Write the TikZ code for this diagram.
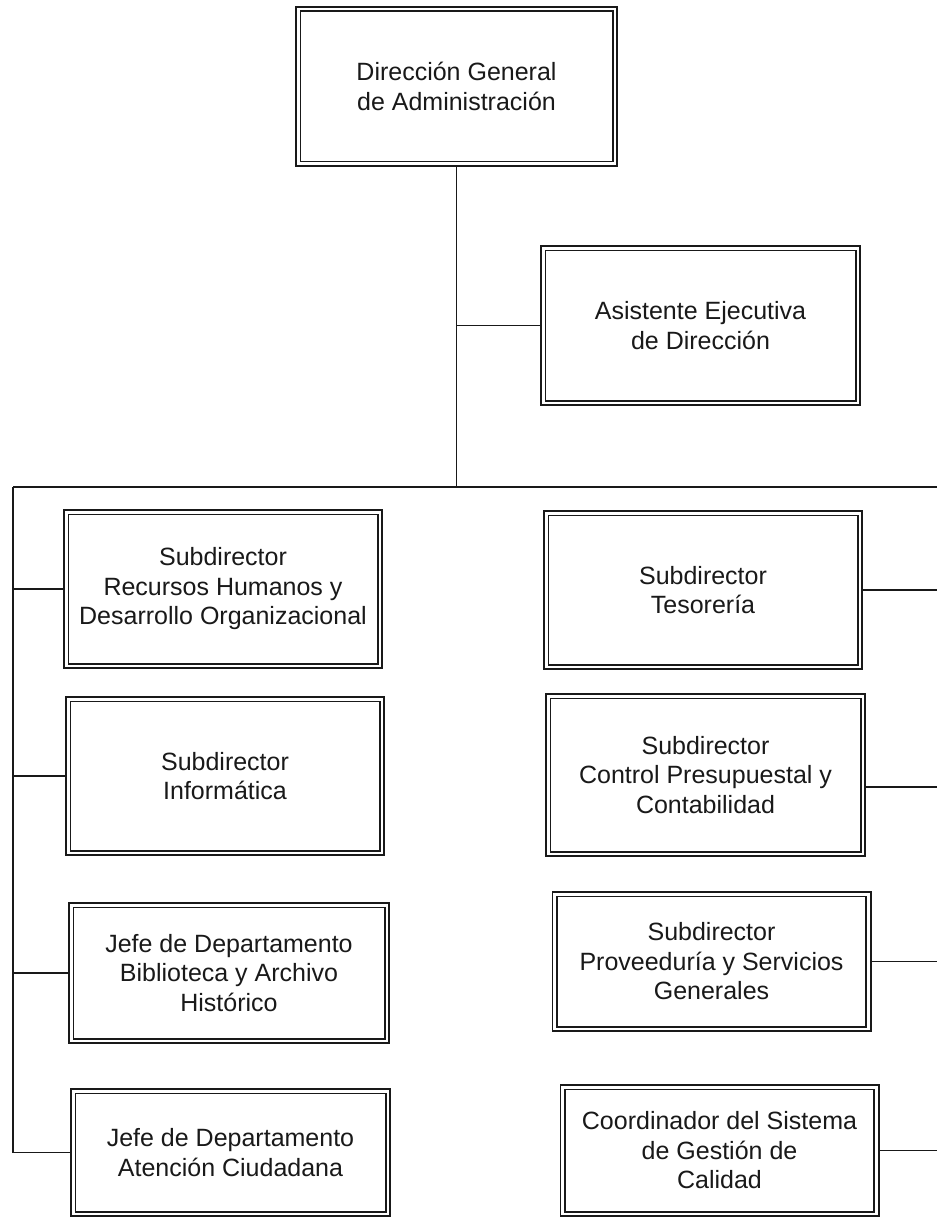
\documentclass[tikz,border=0pt]{standalone}
\usepackage{fontspec}
\setmainfont{Liberation Sans}
\usetikzlibrary{backgrounds}
\begin{document}
\begin{tikzpicture}[x=1pt,y=-1pt,
  box/.style={draw=black!90, double=white, double distance=2.8pt, line width=1.7pt,
    fill=white, align=center, inner sep=0pt, text=black!90,
    font=\fontsize{25}{29.5}\selectfont},
  wire/.style={draw=black!90, line width=1.8pt}]
\useasboundingbox (0,0) rectangle (937,1217);

\node[box, minimum width=316.8pt, minimum height=154.8pt] (dga) at (456.5,86.5)
  {Dirección General\\de Administración};
\node[box, minimum width=314.8pt, minimum height=154.8pt] (asis) at (700.5,325.5)
  {Asistente Ejecutiva\\de Dirección};

\node[box, minimum width=313.8pt, minimum height=153.8pt] (rh) at (223,589)
  {Subdirector\\Recursos Humanos y\\Desarrollo Organizacional};
\node[box, minimum width=313.8pt, minimum height=153.8pt] (inf) at (225,776)
  {Subdirector\\Informática};
\node[box, minimum width=315.8pt, minimum height=135.8pt] (bib) at (229,973)
  {Jefe de Departamento\\Biblioteca y Archivo\\Histórico};
\node[box, minimum width=314.8pt, minimum height=122.8pt] (aten) at (230.5,1152.5)
  {Jefe de Departamento\\Atención Ciudadana};

\node[box, minimum width=313.8pt, minimum height=153.8pt] (tes) at (703,590)
  {Subdirector\\Tesorería};
\node[box, minimum width=314.8pt, minimum height=157.8pt] (con) at (705.5,775)
  {Subdirector\\Control Presupuestal y\\Contabilidad};
\node[box, minimum width=313.8pt, minimum height=134.8pt] (prov) at (711.5,961.5)
  {Subdirector\\Proveeduría y Servicios\\Generales};
\node[box, minimum width=313.8pt, minimum height=126.8pt] (coord) at (719.5,1150.5)
  {Coordinador del Sistema\\de Gestión de\\Calidad};

\coordinate (hub) at (458,487);
\coordinate (L) at (13,487);
\coordinate (R) at (937,487);
\coordinate (c4) at ([yshift=-12pt]con.east);

\begin{scope}[on background layer]
  \fill[white] (0,0) rectangle (937,1217);
  \draw[wire] (dga.south) -- (dga.south |- hub);
  \draw[wire] (asis.west -| dga.south) -- (asis.west);
  \draw[wire] (L) -- (R);
  \draw[wire] (L) |- (aten.west);
  \draw[wire] (rh.west -| L) -- (rh.west);
  \draw[wire] (inf.west -| L) -- (inf.west);
  \draw[wire] (bib.west -| L) -- (bib.west);
  \draw[wire] (tes.east) -- (tes.east -| R);
  \draw[wire] (c4) -- (c4 -| R);
  \draw[wire] (prov.east) -- (prov.east -| R);
  \draw[wire] (coord.east) -- (coord.east -| R);
\end{scope}
\end{tikzpicture}
\end{document}
